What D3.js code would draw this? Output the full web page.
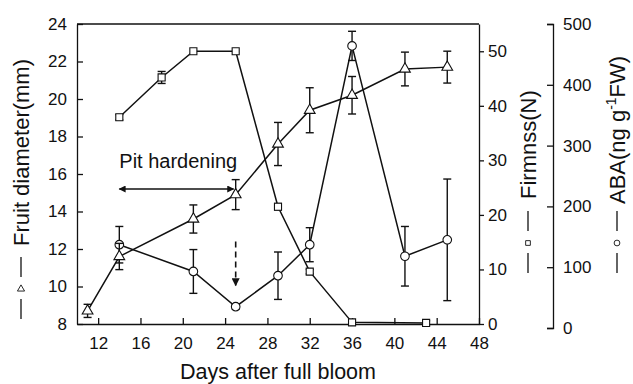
<!DOCTYPE html>
<html>
<head>
<meta charset="utf-8">
<script src="https://cdn.jsdelivr.net/npm/d3@7"></script>
<style>
body { margin: 0; background: #fff; }
svg text { font-family: "Liberation Sans", Arial, sans-serif; fill: #111; }
</style>
</head>
<body>
<svg width="633" height="384"></svg>
<script>
// fruit diameter (triangles, left axis)
var diamDays = [11, 14, 21, 25, 29, 32, 36, 41, 45];
var diam = [8.7, 11.6, 13.6, 14.9, 17.6, 19.4, 20.2, 21.6, 21.7];
var diamErr = [0.35, 0.7, 0.75, 0.8, 1.15, 1.2, 1.0, 0.9, 0.85];
// firmness (squares, first right axis)
var firmDays = [14, 18, 21, 25, 29, 32, 36, 43];
var firm = [37.9, 45.2, 50, 50, 21.5, 9.6, 0.3, 0.2];
var firmErr = [0.5, 1.1, 0, 0, 0.6, 0.4, 0.4, 0.4];
// ABA (circles, second right axis)
var abaDays = [14, 21, 25, 29, 32, 36, 41, 45];
var aba = [137, 93, 35, 86, 137, 464, 118, 145];
var abaErr = [30, 36, 4, 39, 28, 24, 49, 100];

var xTicks = [12, 16, 20, 24, 28, 32, 36, 40, 44, 48];
var diamTicks = [8, 10, 12, 14, 16, 18, 20, 22, 24];
var firmTicks = [0, 10, 20, 30, 40, 50];
var abaTicks = [0, 100, 200, 300, 400, 500];

var svg = d3.select("svg");
var ink = "#111";

var x = d3.scaleLinear().domain([10, 48]).range([77, 479]);
var yD = d3.scaleLinear().domain([8, 24]).range([324, 24]);
var yF = d3.scaleLinear().domain([0, 55]).range([324, 24]);
var yA = d3.scaleLinear().domain([0, 500]).range([328, 24]);

function styleAxis(g) {
 g.selectAll("path, line").attr("stroke", ink).attr("stroke-width", 1.3);
 g.selectAll("text").attr("font-size", 17).attr("fill", ink)
  .style("font-family", "'Liberation Sans', Arial, sans-serif");
}

// frame top
svg.append("line")
 .attr("x1", x(10)).attr("x2", x(48))
 .attr("y1", yD(24)).attr("y2", yD(24))
 .attr("stroke", ink).attr("stroke-width", 1.6);

// bottom axis, ticks pointing in
svg.append("g")
 .attr("transform", "translate(0," + yD(8) + ")")
 .call(d3.axisBottom(x).tickValues(xTicks).tickSizeInner(-6).tickSizeOuter(0).tickPadding(13))
 .call(styleAxis);

// left axis
svg.append("g")
 .attr("transform", "translate(" + x(10) + ",0)")
 .call(d3.axisLeft(yD).tickValues(diamTicks).tickSizeInner(-6).tickSizeOuter(0).tickPadding(10))
 .call(styleAxis);

// firmness axis on the right of the frame
svg.append("g")
 .attr("transform", "translate(" + x(48) + ",0)")
 .call(d3.axisRight(yF).tickValues(firmTicks).tickSizeInner(5).tickSizeOuter(0).tickPadding(4))
 .call(styleAxis);

// ABA axis, detached
svg.append("g")
 .attr("transform", "translate(553,0)")
 .call(d3.axisRight(yA).tickValues(abaTicks).tickSizeInner(-6).tickSizeOuter(-6).tickPadding(10))
 .call(styleAxis);

// lines
var line = d3.line();
function drawSeries(days, vals, errs, yScale, shape) {
 var pts = days.map(function (d, i) { return [x(d), yScale(vals[i])]; });
 svg.append("path")
  .attr("d", line(pts))
  .attr("fill", "none").attr("stroke", ink).attr("stroke-width", 1.5);
 var eb = svg.append("g").attr("stroke", ink).attr("stroke-width", 1.4);
 days.forEach(function (d, i) {
  if (!errs[i]) return;
  var cx = x(d), y1 = yScale(vals[i] + errs[i]), y2 = yScale(vals[i] - errs[i]);
  eb.append("line").attr("x1", cx).attr("x2", cx).attr("y1", y1).attr("y2", y2);
  eb.append("line").attr("x1", cx - 4).attr("x2", cx + 4).attr("y1", y1).attr("y2", y1);
  eb.append("line").attr("x1", cx - 4).attr("x2", cx + 4).attr("y1", y2).attr("y2", y2);
 });
 var sym = d3.symbol().type(shape).size(shape === d3.symbolCircle ? 58 : 50);
 svg.append("g").selectAll("path")
  .data(pts).enter().append("path")
  .attr("transform", function (p) { return "translate(" + p[0] + "," + p[1] + ")"; })
  .attr("d", sym)
  .attr("fill", "#fff").attr("stroke", ink).attr("stroke-width", 1.1);
}
drawSeries(firmDays, firm, firmErr, yF, d3.symbolSquare);
drawSeries(abaDays, aba, abaErr, yA, d3.symbolCircle);
drawSeries(diamDays, diam, diamErr, yD, d3.symbolTriangle);

// annotations
var defs = svg.append("defs");
defs.append("marker").attr("id", "ah")
 .attr("viewBox", "0 0 10 10").attr("refX", 9).attr("refY", 5)
 .attr("markerWidth", 7).attr("markerHeight", 5).attr("orient", "auto-start-reverse")
 .append("path").attr("d", "M0,0L10,5L0,10Z").attr("fill", ink);

svg.append("line")
 .attr("x1", x(14)).attr("x2", x(24.8))
 .attr("y1", yD(15.2)).attr("y2", yD(15.2))
 .attr("stroke", ink).attr("stroke-width", 1.4)
 .attr("marker-start", "url(#ah)").attr("marker-end", "url(#ah)");
svg.append("text")
 .attr("x", x(14)).attr("y", yD(16.3))
 .attr("font-size", 20).text("Pit hardening");

svg.append("line")
 .attr("x1", x(25)).attr("x2", x(25))
 .attr("y1", yD(12.4)).attr("y2", yD(10.05))
 .attr("stroke", ink).attr("stroke-width", 1.6)
 .attr("stroke-dasharray", "6,4")
 .attr("marker-end", "url(#ah)");

// axis titles with legend keys
svg.append("text")
 .attr("text-anchor", "middle")
 .attr("transform", "translate(" + 278 + ",379)")
 .attr("font-size", 21.5).text("Days after full bloom");

function titleKey(cx, yStart, shape, textBottom) {
 var g = svg.append("g");
 g.append("line").attr("x1", cx).attr("x2", cx).attr("y1", yStart).attr("y2", yStart + 20)
  .attr("stroke", ink).attr("stroke-width", 1.3);
 g.append("path").attr("transform", "translate(" + cx + "," + (yStart + 32) + ")")
  .attr("d", d3.symbol().type(shape).size(shape === d3.symbolCircle ? 26 : 22))
  .attr("fill", "#fff").attr("stroke", ink).attr("stroke-width", 0.9);
 g.append("line").attr("x1", cx).attr("x2", cx).attr("y1", yStart + 42).attr("y2", yStart + 62)
  .attr("stroke", ink).attr("stroke-width", 1.3);
 return g.append("text")
  .attr("transform", "translate(" + (cx + 8) + "," + textBottom + ") rotate(-90)")
  .attr("font-size", 22);
}
titleKey(21, 257, d3.symbolTriangle, 246).text("Fruit diameter(mm)");
titleKey(528, 211, d3.symbolSquare, 199).text("Firmnss(N)");
var abaT = titleKey(617, 211, d3.symbolCircle, 204);
abaT.append("tspan").text("ABA(ng g");
abaT.append("tspan").attr("font-size", 14).attr("dy", -9).text("-1");
abaT.append("tspan").attr("dy", 9).text("FW)");
</script>
</body>
</html>
